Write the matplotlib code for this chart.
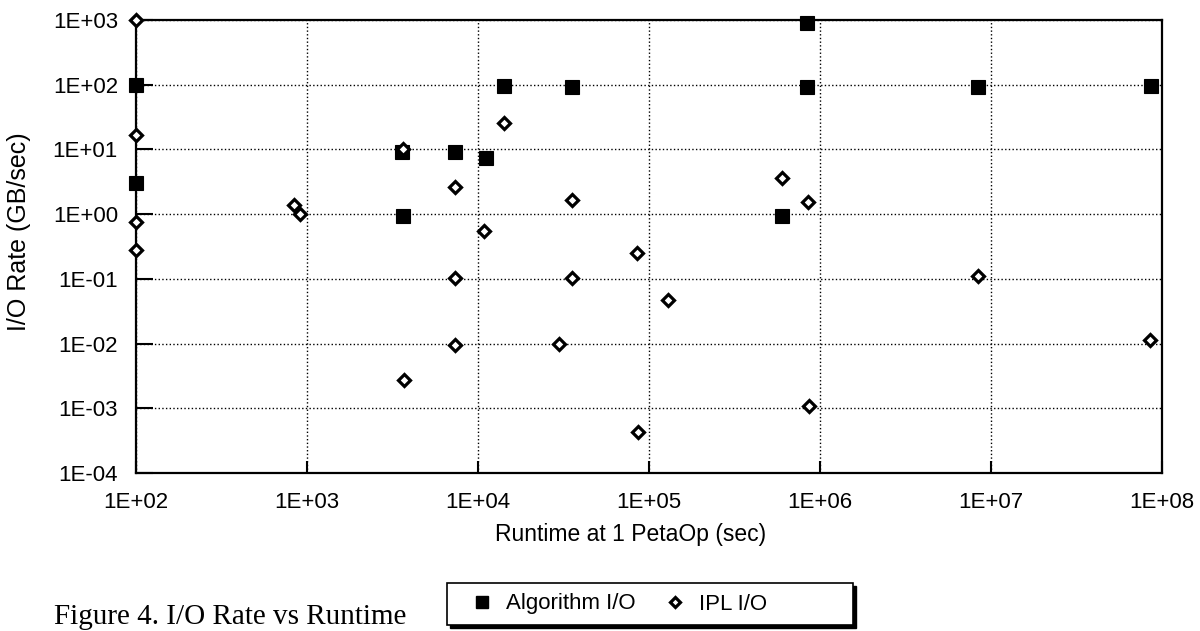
import numpy as np
import matplotlib
matplotlib.use("Agg")
import matplotlib.pyplot as plt
from matplotlib.ticker import FixedLocator, FuncFormatter, NullLocator
from matplotlib.patches import Rectangle
from matplotlib.lines import Line2D

# ---------------- data ----------------
algo_runtime = [100, 100, 3600, 3640, 7290, 11070, 14150, 35600,
                600000, 845000, 845000, 8.4e6, 8.6e7]
algo_rate = [100, 3.0, 9.0, 0.95, 9.2, 7.3, 97, 92,
             0.94, 900, 92, 92, 95]

ipl_runtime = [100, 100, 100, 100, 840, 906, 3640, 3670, 7290, 7290, 7290,
               10900, 14150, 29600, 35600, 35600, 85100, 86700, 130000,
               598000, 853000, 857000, 8.4e6, 8.5e7]
ipl_rate = [1000, 17, 0.75, 0.28, 1.37, 1.0, 10, 0.0027, 2.63, 0.102, 0.0094,
            0.55, 25.8, 0.0097, 1.64, 0.102, 0.251, 0.00043, 0.0465,
            3.58, 1.55, 0.0011, 0.112, 0.0115]

x_ticks = [1e2, 1e3, 1e4, 1e5, 1e6, 1e7, 1e8]
y_ticks = [1e-4, 1e-3, 1e-2, 1e-1, 1e0, 1e1, 1e2, 1e3]

series_labels = ["Algorithm I/O", "IPL I/O"]
x_label = "Runtime at 1 PetaOp (sec)"
y_label = "I/O Rate (GB/sec)"
caption = "Figure 4. I/O Rate vs Runtime"

# ---------------- style ----------------
plt.rcParams['font.family'] = ['Liberation Sans', 'DejaVu Sans']
FS = 16
W, H = 1200, 631
fig = plt.figure(figsize=(W / 100, H / 100), dpi=100)
fig.patch.set_facecolor('white')

L, R, T, B = 136, 1162, 20, 473
ax = fig.add_axes([L / W, 1 - B / H, (R - L) / W, (B - T) / H])
ax.set_xscale('log')
ax.set_yscale('log')
ax.set_xlim(x_ticks[0], x_ticks[-1])
ax.set_ylim(y_ticks[0], y_ticks[-1])

def sci(v, pos):
    e = int(round(np.log10(v)))
    return f"1E{e:+03d}"

ax.xaxis.set_major_locator(FixedLocator(x_ticks))
ax.yaxis.set_major_locator(FixedLocator(y_ticks))
ax.xaxis.set_minor_locator(NullLocator())
ax.yaxis.set_minor_locator(NullLocator())
ax.xaxis.set_major_formatter(FuncFormatter(sci))
ax.yaxis.set_major_formatter(FuncFormatter(sci))

ax.tick_params(axis='x', direction='in', length=9, width=1.5, pad=14,
               labelsize=FS, colors='black')
ax.tick_params(axis='y', direction='in', length=12, width=1.5, pad=13,
               labelsize=FS, colors='black')
for s in ax.spines.values():
    s.set_linewidth(1.6)
    s.set_color('black')

ax.set_axisbelow(True)
ax.grid(True, which='major', color='black', linestyle=':', linewidth=1.0)

sq_kw = dict(linestyle='none', marker='s', markersize=10, color='black',
             markeredgecolor='black', markeredgewidth=0.8, clip_on=False, zorder=3)
dm_kw = dict(linestyle='none', marker='D', markersize=6.5, markerfacecolor='white',
             markeredgecolor='black', markeredgewidth=2.3, clip_on=False, zorder=4)

ax.plot(algo_runtime, algo_rate, **sq_kw)
ax.plot(ipl_runtime, ipl_rate, **dm_kw)

# axis titles
fig.text(631 / W, 1 - 535 / H, x_label, ha='center', va='center', fontsize=FS + 0.5)
fig.text(19 / W, 1 - 232 / H, y_label, ha='center', va='center', rotation=90,
         fontsize=FS + 2)

# caption at the bottom-left, left of the legend box
fig.text(54 / W, 1 / H, caption, ha='left', va='bottom', fontsize=21,
         family='Liberation Serif', zorder=1)

# legend box with shadow
lx0, lx1, ly0, ly1 = 447, 853, 583, 625
sh = Rectangle(((lx0 + 3) / W, 1 - (ly1 + 3) / H), (lx1 - lx0) / W, (ly1 - ly0) / H,
               transform=fig.transFigure, facecolor='black', edgecolor='black',
               zorder=5)
box = Rectangle((lx0 / W, 1 - ly1 / H), (lx1 - lx0) / W, (ly1 - ly0) / H,
                transform=fig.transFigure, facecolor='white', edgecolor='black',
                linewidth=1.2, zorder=6)
fig.patches.extend([sh, box])

handles = [Line2D([], [], linestyle='none', marker='s', markersize=9, color='black'),
           Line2D([], [], linestyle='none', marker='D', markersize=5.5,
                  markerfacecolor='white', markeredgecolor='black', markeredgewidth=2.3)]
leg = fig.legend(handles, series_labels, loc='center left',
                 bbox_to_anchor=(469 / W, 1 - 604 / H), ncol=2, frameon=False,
                 fontsize=FS, handlelength=1.2, handletextpad=0.45,
                 columnspacing=1.2, borderpad=0, borderaxespad=0)
leg.set_zorder(7)

fig.savefig("out.png", dpi=100, facecolor='white')
